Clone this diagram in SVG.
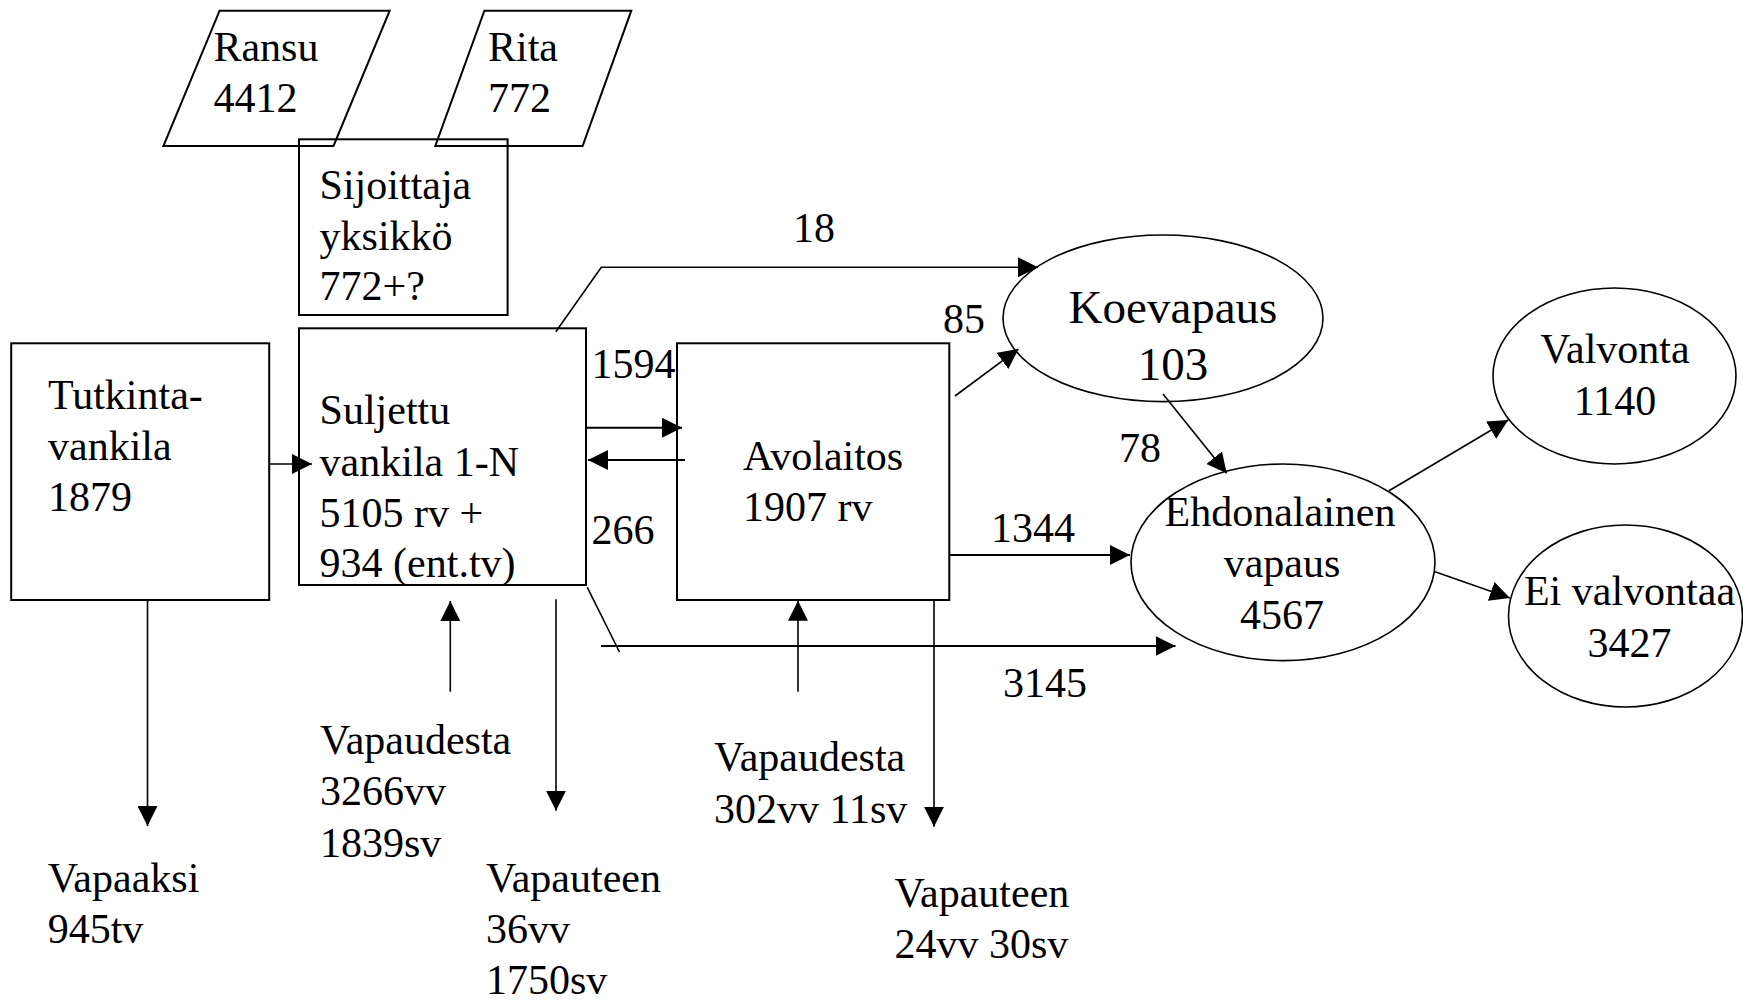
<svg xmlns="http://www.w3.org/2000/svg" width="1743" height="1000" viewBox="0 0 1743 1000">
<style>
text{font-family:"Liberation Serif","Times New Roman",serif;font-size:42px;fill:#000}
.big{font-size:47px}
.mid{text-anchor:middle}
.box{fill:none;stroke:#000;stroke-width:2}
.ell{fill:none;stroke:#000;stroke-width:1.6}
.ln{fill:none;stroke:#000;stroke-width:1.6}
.hl{fill:none;stroke:#000;stroke-width:2}
.arr{marker-end:url(#ah)}
</style>
<defs>
<marker id="ah" markerUnits="userSpaceOnUse" markerWidth="20" markerHeight="20" refX="20" refY="10" orient="auto">
<path d="M0,0 L20,10 L0,20 z" fill="#000"/>
</marker>
</defs>
<rect width="1743" height="1000" fill="#fff"/>

<g id="connectors">
<path class="ln arr" d="M269,464 L312,464"/>
<path class="hl arr" d="M586,427.7 L682,427.7"/>
<path class="hl arr" d="M685,460 L588,460"/>
<path class="ln arr" d="M555.8,331.7 L601.3,267.3 L1038,267.3"/>
<path class="ln arr" d="M955,396 L1018.5,349"/>
<path class="ln arr" d="M1163,394 L1226.7,473.3"/>
<path class="hl arr" d="M949,555 L1130,555"/>
<path class="ln" d="M587.3,587.3 L619.5,652"/>
<path class="hl arr" d="M601,646 L1175.5,646"/>
<path class="ln arr" d="M1389,490.7 L1508.3,420"/>
<path class="ln arr" d="M1435,571.7 L1510,598"/>
<path class="ln arr" d="M147.5,600 L147.5,826"/>
<path class="ln arr" d="M450.3,691.7 L450.3,601"/>
<path class="ln arr" d="M556,599.3 L556,810.7"/>
<path class="ln arr" d="M798,691.7 L798,600.7"/>
<path class="ln arr" d="M934,600 L934,826.7"/>
<text x="793" y="242.3">18</text>
<text x="943" y="333.3">85</text>
<text x="591.5" y="378">1594</text>
<text x="591.5" y="544">266</text>
<text x="991" y="542">1344</text>
<text x="1119" y="461.7">78</text>
<text x="1003" y="696.7">3145</text>
</g>

<g id="ransu">
<polygon class="box" points="219.6,10.7 389.7,10.7 333.5,146 163.4,146"/>
<text x="213.4" y="61">Ransu</text>
<text x="213.4" y="112.3">4412</text>
</g>

<g id="rita">
<polygon class="box" points="484.4,10.7 631.3,10.7 582.6,146 435.3,146"/>
<text x="488" y="61">Rita</text>
<text x="488" y="112.3">772</text>
</g>

<g id="sijoittaja">
<rect class="box" x="299" y="139.3" width="208.6" height="175.7"/>
<text x="319.6" y="199">Sijoittaja</text>
<text x="319.6" y="249.5">yksikkö</text>
<text x="319.6" y="300">772+?</text>
</g>

<g id="tutkinta">
<rect class="box" x="11.2" y="343.3" width="258" height="256.7"/>
<text x="48" y="409.3">Tutkinta-</text>
<text x="48" y="460">vankila</text>
<text x="48" y="511">1879</text>
</g>

<g id="suljettu">
<rect class="box" x="299" y="328.3" width="287" height="256.7"/>
<text x="319.6" y="424.3">Suljettu</text>
<text x="319.6" y="475.7">vankila 1-N</text>
<text x="319.6" y="526.7">5105 rv +</text>
<text x="319.6" y="576.7">934 (ent.tv)</text>
</g>

<g id="avolaitos">
<rect class="box" x="677" y="343.3" width="272.3" height="256.7"/>
<text x="743" y="470">Avolaitos</text>
<text x="743" y="521">1907 rv</text>
</g>

<g id="koevapaus">
<ellipse class="ell" cx="1163" cy="318.3" rx="160" ry="83.3"/>
<text class="big mid" x="1173" y="322.7">Koevapaus</text>
<text class="big mid" x="1173" y="380">103</text>
</g>

<g id="ehdonalainen">
<ellipse class="ell" cx="1283" cy="562.3" rx="152" ry="98.3"/>
<text class="mid" x="1280" y="526">Ehdonalainen</text>
<text class="mid" x="1282" y="577.3">vapaus</text>
<text class="mid" x="1282" y="629.3">4567</text>
</g>

<g id="valvonta">
<ellipse class="ell" cx="1614.5" cy="376" rx="121.5" ry="88"/>
<text class="mid" x="1615" y="362.7">Valvonta</text>
<text class="mid" x="1615" y="415">1140</text>
</g>

<g id="eivalvontaa">
<ellipse class="ell" cx="1625.5" cy="616" rx="117" ry="91"/>
<text class="mid" x="1629.5" y="605">Ei valvontaa</text>
<text class="mid" x="1629.5" y="656.7">3427</text>
</g>

<g id="vapaaksi">
<text x="47.7" y="891.7">Vapaaksi</text>
<text x="47.7" y="943.3">945tv</text>
</g>

<g id="vapaudesta1">
<text x="320" y="754">Vapaudesta</text>
<text x="320" y="805">3266vv</text>
<text x="320" y="856.5">1839sv</text>
</g>

<g id="vapauteen1">
<text x="486" y="891.7">Vapauteen</text>
<text x="486" y="943">36vv</text>
<text x="486" y="993.5">1750sv</text>
</g>

<g id="vapaudesta2">
<text x="714" y="770.7">Vapaudesta</text>
<text x="714" y="822.5">302vv 11sv</text>
</g>

<g id="vapauteen2">
<text x="894.4" y="907.3">Vapauteen</text>
<text x="894.4" y="958.3">24vv 30sv</text>
</g>
</svg>
